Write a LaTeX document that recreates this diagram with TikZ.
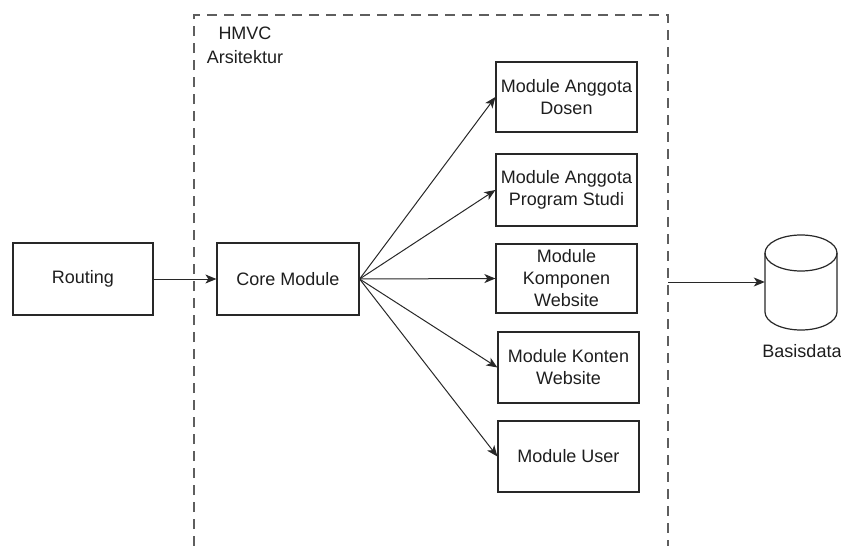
\documentclass[tikz,border=0pt]{standalone}
\usepackage{fontspec}
\setmainfont{Liberation Sans}
\usetikzlibrary{arrows.meta}
\definecolor{lc}{RGB}{40,40,40}
\definecolor{tc}{RGB}{30,30,30}
\begin{document}
\begin{tikzpicture}[x=1pt,y=-1pt,
  box/.style={draw=lc,line width=1.2pt,rectangle,minimum width=141pt,minimum height=71pt,align=center,inner sep=2pt,
    font=\fontsize{18}{22}\selectfont,text=tc},
  conn/.style={draw=lc,line width=1pt,-{Stealth[length=11pt,width=9pt,inset=3pt]}},
  cont/.style={draw=lc!75,line width=1.2pt,dash pattern=on 10pt off 7pt},
  lbl/.style={font=\fontsize{18}{24}\selectfont,text=tc,align=center,inner sep=0pt}]
\useasboundingbox (0,0) rectangle (841,546);
% container
\draw[cont] (194,546) -- (194,15) -- (668,15) -- (668,546);
\node[lbl] (hmvc) at (245,45) {HMVC\\Arsitektur};
\coordinate (contR) at (668,282);
% nodes
\node[box,minimum width=140pt,minimum height=72pt] (routing) at (83,279) {Routing};
\node[box,minimum width=142pt,minimum height=72pt] (core) at (288,279) {Core Module};
\node[box,minimum height=70pt] (dosen) at (566.5,97) {Module Anggota\\Dosen};
\node[box,minimum height=72pt] (prodi) at (566.5,190) {Module Anggota\\Program Studi};
\node[box,minimum height=69pt] (komp) at (566.5,278.5) {Module\\Komponen\\Website};
\node[box] (konten) at (568.5,367.5) {Module Konten\\Website};
\node[box] (user) at (568.5,456.5) {Module User};
% database cylinder
\node[minimum width=72pt,minimum height=95pt,inner sep=0pt] (db) at (801,282.5) {};
\draw[lc,line width=1.2pt,fill=white] (765,253) -- (765,312) arc[start angle=180,end angle=360,x radius=36pt,y radius=18pt] -- (837,253);
\draw[lc,line width=1.2pt] (801,253) ellipse[x radius=36pt,y radius=18pt];
\node[lbl] (dblbl) at (802,351) {Basisdata};
% connectors
\draw[conn] (routing.east) -- (core.west);
\draw[conn] (core.east) -- (dosen.west);
\draw[conn] (core.east) -- (prodi.west);
\draw[conn] (core.east) -- (komp.west);
\draw[conn] (core.east) -- (konten.west);
\draw[conn] (core.east) -- (user.west);
\draw[conn] (contR) -- (contR -| db.west);
\end{tikzpicture}
\end{document}
